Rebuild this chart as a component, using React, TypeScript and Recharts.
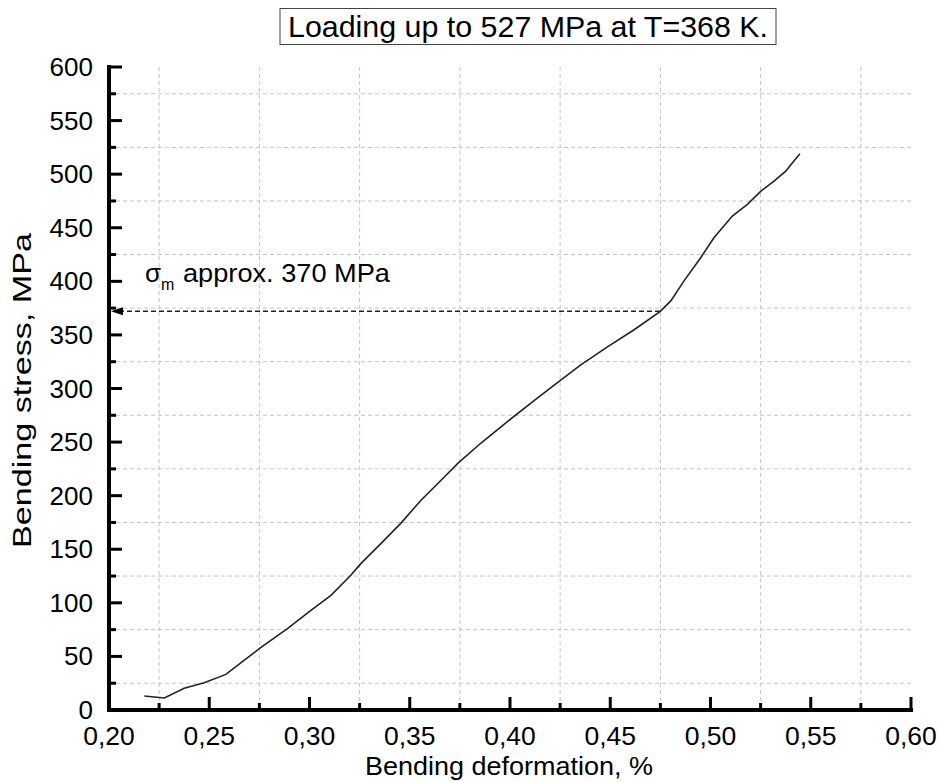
import React from 'react';
import { LineChart, Line, XAxis, YAxis, CartesianGrid, ReferenceLine, Customized } from 'recharts';

const strain = [0.2176, 0.2276, 0.2375, 0.2475, 0.2583, 0.2675, 0.2758, 0.289, 0.3007, 0.3107, 0.3206, 0.3256, 0.3356, 0.3456, 0.3555, 0.3655, 0.3741, 0.3854, 0.3987, 0.412, 0.4253, 0.4353, 0.4486, 0.4619, 0.4748, 0.4802, 0.4868, 0.4951, 0.5017, 0.5109, 0.5184, 0.525, 0.5317, 0.5375, 0.5408, 0.5446];
const stress = [13.0, 11.2, 20.2, 25.4, 33.2, 46.6, 58.4, 76, 93, 107, 125.7, 136.6, 155.2, 174.4, 195.5, 214.2, 230.3, 248.9, 269.1, 288.6, 307.9, 322.0, 338.9, 354.8, 371.8, 381.7, 400.4, 422, 440.7, 460.9, 471.8, 484, 493.5, 502.8, 510.5, 519];

const xTicks = [0.2, 0.225, 0.25, 0.275, 0.3, 0.325, 0.35, 0.375, 0.4, 0.425, 0.45, 0.475, 0.5, 0.525, 0.55, 0.575, 0.6];
const yTicks = [0, 25, 50, 75, 100, 125, 150, 175, 200, 225, 250, 275, 300, 325, 350, 375, 400, 425, 450, 475, 500, 525, 550, 575, 600];
const xGrid = [0.225, 0.275, 0.325, 0.375, 0.425, 0.475, 0.525, 0.575];
const yGrid = [25, 75, 125, 175, 225, 275, 325, 375, 425, 475, 525, 575];

const sigmaM = 372;
const sigmaStrain = 0.4748;
const titleText = 'Loading up to 527 MPa at T=368 K.';
const xTitle = 'Bending deformation, %';
const yTitle = 'Bending stress, MPa';
const noteText = 'approx. 370 MPa';

const data = strain.map((x, i) => ({ x, y: stress[i] }));

const FONT = '"Liberation Sans", Arial, sans-serif';
const isMajorX = (v: number) => Math.abs(Math.round(v * 20) - v * 20) < 1e-6;
const isMajorY = (v: number) => v % 50 === 0;
const fmtX = (v: number) => v.toFixed(2).replace('.', ',');

const BottomTick = (p: any) => {
  const { x, y, payload } = p;
  const major = isMajorX(payload.value);
  return (
    <g>
      <line x1={x} x2={x} y1={y} y2={y - (major ? 13 : 7)} stroke="#000" strokeWidth={3} />
      {major && (
        <text x={x} y={y + 35} textAnchor="middle" fontSize={26.5} fontFamily={FONT} fill="#000">
          {fmtX(payload.value)}
        </text>
      )}
    </g>
  );
};

const TopTick = (p: any) => {
  const { x, y, payload } = p;
  const major = isMajorX(payload.value);
  return <line x1={x} x2={x} y1={y} y2={y + (major ? 13 : 7)} stroke="#000" strokeWidth={3} />;
};

const LeftTick = (p: any) => {
  const { x, y, payload } = p;
  const major = isMajorY(payload.value);
  return (
    <g>
      <line x1={x} x2={x + (major ? 13 : 7)} y1={y} y2={y} stroke="#000" strokeWidth={3} />
      {major && (
        <text x={x - 16} y={y + 9} textAnchor="end" fontSize={26} fontFamily={FONT} fill="#000">
          {payload.value}
        </text>
      )}
    </g>
  );
};

const RightTick = (p: any) => {
  const { x, y, payload } = p;
  const major = isMajorY(payload.value);
  return <line x1={x} x2={x - (major ? 13 : 7)} y1={y} y2={y} stroke="#000" strokeWidth={3} />;
};

const ArrowShape = (p: any) => {
  const { x1, y1, x2 } = p;
  if (x1 == null) return null;
  return (
    <g>
      <line x1={x1 + 10} x2={x2} y1={y1} y2={y1} stroke="#222" strokeWidth={1.5} strokeDasharray="5 3" />
      <polygon points={`${x1 + 2},${y1} ${x1 + 14},${y1 - 4} ${x1 + 14},${y1 + 4}`} fill="#000" />
      <text x={x1 + 36} y={y1 - 29} fontSize={26} fontFamily={FONT} fill="#000">
        σ<tspan fontSize={16} dy={8}>m</tspan>
      </text>
      <text x={x1 + 74} y={y1 - 29} fontSize={26.5} fontFamily={FONT} fill="#000" textLength={207} lengthAdjust="spacingAndGlyphs">
        {noteText}
      </text>
    </g>
  );
};

const Decor = () => (
  <g>
    <rect x={280} y={8.5} width={496} height={36} fill="#fff" stroke="#444" strokeWidth={1} />
    <text x={288} y={37} fontSize={29.5} fontFamily={FONT} fill="#000" textLength={480} lengthAdjust="spacingAndGlyphs">{titleText}</text>
    <text x={365} y={775} fontSize={26} fontFamily={FONT} fill="#000" textLength={288} lengthAdjust="spacingAndGlyphs">{xTitle}</text>
    <text x={0} y={0} transform="translate(31,548) rotate(-90)" fontSize={25} fontFamily={FONT} fill="#000" textLength={315} lengthAdjust="spacingAndGlyphs">{yTitle}</text>
  </g>
);

export default function App() {
  return (
    <div style={{ position: 'absolute', left: 0, top: 0, background: '#fff' }}>
      <LineChart width={940} height={782} data={data} margin={{ top: 67, right: 29, bottom: 12, left: 49 }}>
        <CartesianGrid
          xAxisId="b"
          yAxisId="l"
          horizontalValues={yGrid}
          verticalValues={xGrid}
          stroke="#c4c4c4"
          strokeDasharray="4 3"
          strokeWidth={1}
        />
        <XAxis
          xAxisId="b"
          dataKey="x"
          type="number"
          domain={[0.2, 0.6]}
          ticks={xTicks}
          interval={0}
          height={60}
          tickSize={0}
          tickMargin={0}
          tickLine={false}
          tick={<BottomTick />}
          axisLine={{ stroke: '#000', strokeWidth: 4, strokeLinecap: 'square' }}
          allowDataOverflow
        />
        <XAxis
          xAxisId="t"
          orientation="top"
          dataKey="x"
          type="number"
          domain={[0.2, 0.6]}
          ticks={xTicks}
          interval={0}
          height={0}
          tickSize={0}
          tickMargin={0}
          tickLine={false}
          tick={<TopTick />}
          axisLine={{ stroke: '#000', strokeWidth: 4, strokeLinecap: 'square' }}
          allowDataOverflow
        />
        <YAxis
          yAxisId="l"
          type="number"
          domain={[0, 600]}
          ticks={yTicks}
          interval={0}
          width={60}
          tickSize={0}
          tickMargin={0}
          tickLine={false}
          tick={<LeftTick />}
          axisLine={{ stroke: '#000', strokeWidth: 4, strokeLinecap: 'square' }}
          allowDataOverflow
        />
        <YAxis
          yAxisId="r"
          orientation="right"
          type="number"
          domain={[0, 600]}
          ticks={yTicks}
          interval={0}
          width={0}
          tickSize={0}
          tickMargin={0}
          tickLine={false}
          tick={<RightTick />}
          axisLine={{ stroke: '#000', strokeWidth: 4, strokeLinecap: 'square' }}
          allowDataOverflow
        />
        <ReferenceLine
          xAxisId="b"
          yAxisId="l"
          segment={[{ x: 0.2, y: sigmaM }, { x: sigmaStrain, y: sigmaM }]}
          shape={<ArrowShape />}
          ifOverflow="visible"
        />
        <Line
          xAxisId="b"
          yAxisId="l"
          type="linear"
          dataKey="y"
          stroke="#222"
          strokeWidth={1.6}
          dot={false}
          isAnimationActive={false}
        />
        <Customized component={Decor} />
      </LineChart>
    </div>
  );
}
